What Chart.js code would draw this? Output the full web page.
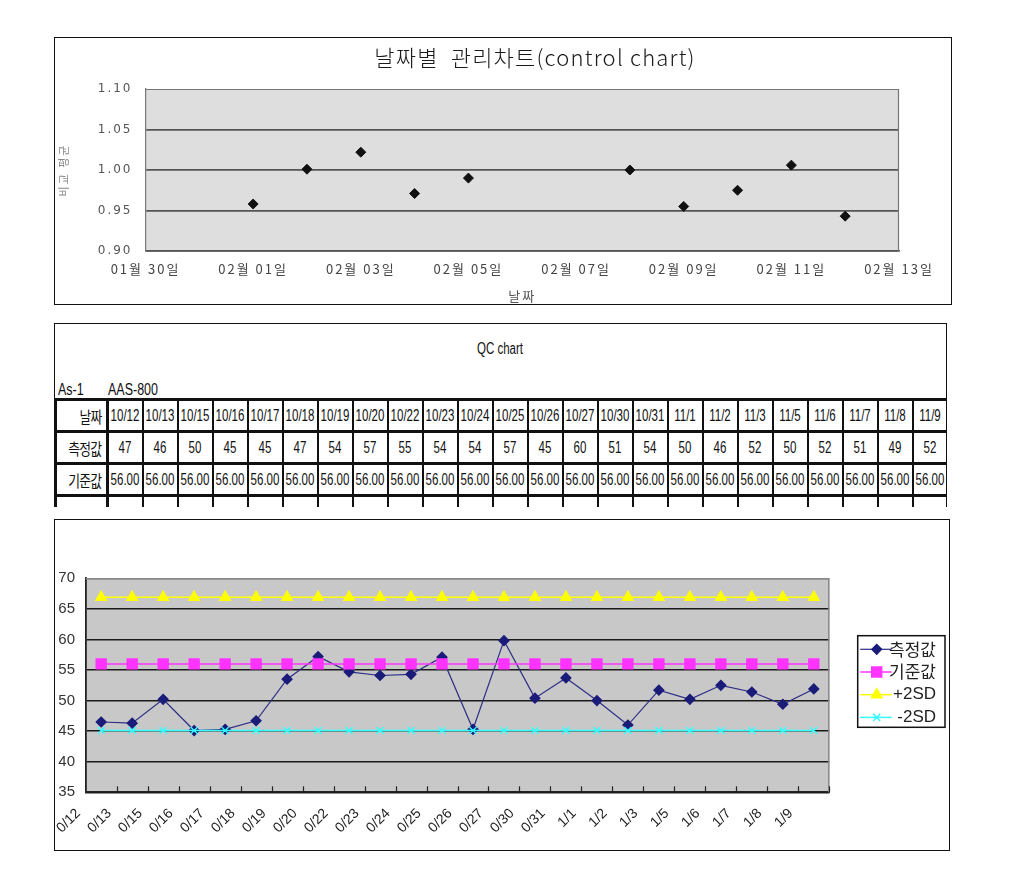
<!DOCTYPE html>
<html><head><meta charset="utf-8">
<script src="https://cdn.jsdelivr.net/npm/chart.js@4.4.0/dist/chart.umd.min.js"></script>
<style>
html,body{margin:0;padding:0;background:#fff;width:1025px;height:889px;overflow:hidden;}
.panel{position:absolute;box-sizing:border-box;border:1px solid #111;background:#fff;}
#p1{left:54px;top:37px;width:898px;height:268px;}
#p2{left:54px;top:323px;width:893px;height:184px;border-bottom:none;overflow:hidden;}
#p3{left:54px;top:519px;width:896px;height:332px;}
canvas{position:absolute;left:0;top:0;}
.narrow{font-family:"Liberation Sans Narrow","Arial Narrow","Liberation Sans",sans-serif;}
.sq{display:inline-block;width:60px;margin:0 -30px;text-align:center;transform:scaleX(0.72);transform-origin:center;}
.sql{display:inline-block;transform:scaleX(0.78);transform-origin:left center;}
#qct{position:absolute;left:345px;top:15px;width:200px;text-align:center;font-size:16px;line-height:20px;color:#111;}
#as1{position:absolute;left:3px;top:56px;font-size:16px;line-height:20px;color:#111;}
#aas{position:absolute;left:53px;top:56px;font-size:16px;line-height:20px;color:#111;}
#tbl{position:absolute;left:-1px;top:74px;border-collapse:collapse;table-layout:fixed;width:894px;}
#tbl td{border-left:2px solid #111;border-right:2px solid #111;border-top:3px solid #111;border-bottom:3px solid #111;height:29px;padding:0;text-align:center;font-size:16px;color:#111;white-space:nowrap;overflow:visible;}
#tbl td.h{text-align:right;padding-right:5px;font-family:"Noto Sans CJK KR",sans-serif;font-size:16px;border-left:3px solid #111;border-right:3px solid #111;}
#tbl td.h span{display:inline-block;transform:scaleX(0.8);transform-origin:right center;letter-spacing:-1px;}
</style></head>
<body>
<div class="panel" id="p1"><canvas id="c1" width="896" height="266"></canvas></div>
<div class="panel" id="p2">
  <div id="qct" class="narrow"><span class="sq" style="width:80px;margin:0">QC chart</span></div>
  <div id="as1" class="narrow"><span class="sql">As-1</span></div>
  <div id="aas" class="narrow"><span class="sql">AAS-800</span></div>
  <table id="tbl" class="narrow"><colgroup id="cg"></colgroup><tbody id="tb"></tbody></table>
</div>
<div class="panel" id="p3"><canvas id="c3" width="894" height="330"></canvas></div>
<script>
// ---------- Panel 1 data (날짜별 관리차트) ----------
const scatterDates = ['02-01','02-02','02-03','02-04','02-05','02-08','02-09','02-10','02-11','02-12'];
const scatterValues = [0.958, 1.001, 1.022, 0.971, 0.990, 1.000, 0.955, 0.975, 1.006, 0.943];
const dateTickLabels = ['01월 30일','02월 01일','02월 03일','02월 05일','02월 07일','02월 09일','02월 11일','02월 13일'];
const scatterStartDate = '01-30';

// ---------- Panel 2/3 data (QC chart) ----------
const qcDates = ['10/12','10/13','10/15','10/16','10/17','10/18','10/19','10/20','10/22','10/23','10/24','10/25','10/26','10/27','10/30','10/31','11/1','11/2','11/3','11/5','11/6','11/7','11/8','11/9'];
const tableMeasured = [47,46,50,45,45,47,54,57,55,54,54,57,45,60,51,54,50,46,52,50,52,51,49,52];
const tableReference = ['56.00','56.00','56.00','56.00','56.00','56.00','56.00','56.00','56.00','56.00','56.00','56.00','56.00','56.00','56.00','56.00','56.00','56.00','56.00','56.00','56.00','56.00','56.00','56.00'];
const measured = [46.5,46.3,50.2,45.1,45.3,46.7,53.5,57.2,54.7,54.1,54.3,57.1,45.3,59.8,50.4,53.7,50.0,46.0,51.7,50.2,52.5,51.4,49.4,51.9];
const referenceValues = [56,56,56,56,56,56,56,56,56,56,56,56,56,56,56,56,56,56,56,56,56,56,56,56];
const plus2SD = [66.9,66.9,66.9,66.9,66.9,66.9,66.9,66.9,66.9,66.9,66.9,66.9,66.9,66.9,66.9,66.9,66.9,66.9,66.9,66.9,66.9,66.9,66.9,66.9];
const minus2SD = [45.1,45.1,45.1,45.1,45.1,45.1,45.1,45.1,45.1,45.1,45.1,45.1,45.1,45.1,45.1,45.1,45.1,45.1,45.1,45.1,45.1,45.1,45.1,45.1];
const seriesNames = ['측정값','기준값','+2SD','-2SD'];
const rowHeaders = ['날짜','측정값','기준값'];
const yTicks3 = [35,40,45,50,55,60,65,70];

// ---------- table ----------
(function(){
  const cg = document.getElementById('cg');
  const c0 = document.createElement('col'); c0.style.width='52px'; cg.appendChild(c0);
  qcDates.forEach(()=>{const c=document.createElement('col'); c.style.width='35px'; cg.appendChild(c);});
  const tb = document.getElementById('tb');
  const rows = [qcDates, tableMeasured, tableReference, qcDates.map(()=> '')];
  rows.forEach((vals, r)=>{
    const tr = document.createElement('tr');
    const th = document.createElement('td'); th.className='h';
    const hs = document.createElement('span'); hs.textContent = rowHeaders[r] || ''; th.appendChild(hs); tr.appendChild(th);
    vals.forEach(v=>{const td=document.createElement('td'); const s=document.createElement('span'); s.className='sq'; s.textContent=v; td.appendChild(s); tr.appendChild(td);});
    tb.appendChild(tr);
  });
})();

// ---------- plugins ----------
const spacing = {
  id:'spacing',
  beforeUpdate(chart, args, o){ if(o.value) chart.ctx.letterSpacing = o.value; },
  beforeDraw(chart, args, o){ if(o.value) chart.ctx.letterSpacing = o.value; }
};
const plotBg = {
  id:'plotBg',
  beforeDraw(chart, args, o){
    const {ctx, chartArea:a} = chart;
    ctx.save(); ctx.fillStyle = o.color; ctx.fillRect(a.left, a.top, a.width, a.height); ctx.restore();
  },
  beforeDatasetsDraw(chart, args, o){
    if(!o.frame) return;
    const {ctx, chartArea:a} = chart;
    ctx.save(); ctx.strokeStyle=o.frame; ctx.lineWidth=o.frameWidth||1;
    ctx.beginPath(); ctx.moveTo(a.left, a.top+0.5); ctx.lineTo(a.right-0.5, a.top+0.5); ctx.lineTo(a.right-0.5, a.bottom); ctx.stroke();
    if(o.innerTicks){
      const xs = chart.scales.x; ctx.strokeStyle=o.innerTicks; ctx.lineWidth=1.2;
      for(let i=1;i<=xs.ticks.length;i++){
        const px = Math.round(xs.getPixelForValue(i-0.5))+0.5;
        ctx.beginPath(); ctx.moveTo(px, a.bottom); ctx.lineTo(px, a.bottom-6); ctx.stroke();
      }
    }
    ctx.restore();
  }
};
const freeText = {
  id:'freeText',
  afterDraw(chart, args, o){
    const ctx = chart.ctx;
    (o.items||[]).forEach(it=>{
      ctx.save(); ctx.font = it.font; ctx.fillStyle = it.color; ctx.textAlign='center'; ctx.textBaseline='middle';
      if(it.spacing) ctx.letterSpacing = it.spacing;
      ctx.fillText(it.text, it.x, it.y); ctx.restore();
    });
  }
};
const lineLegend = {
  id:'lineLegend',
  afterDraw(chart, args, o){
    const {ctx, chartArea:a} = chart;
    const x0 = a.right + o.offsetX, y0 = o.top;
    ctx.save();
    ctx.fillStyle='#fff'; ctx.fillRect(x0, y0, o.width, o.height);
    ctx.strokeStyle='#111'; ctx.lineWidth=1.5; ctx.strokeRect(x0, y0, o.width, o.height);
    chart.data.datasets.forEach((ds, i)=>{
      const cy = y0 + o.firstRow + i*o.rowGap;
      ctx.strokeStyle = ds.borderColor; ctx.lineWidth = ds.borderWidth;
      ctx.beginPath(); ctx.moveTo(x0+2.5, cy); ctx.lineTo(x0+34, cy); ctx.stroke();
      ctx.fillStyle = ds.pointBackgroundColor || ds.backgroundColor; ctx.strokeStyle = ds.pointBorderColor || ds.borderColor;
      Chart.helpers.drawPoint(ctx, {pointStyle: ds.pointStyle, radius: ds.pointRadius, rotation: 0, borderWidth: ds.pointBorderWidth || 1}, x0+19, cy);
      const isKo = /[가-힣]/.test(ds.label);
      ctx.font = isKo ? '17px "Noto Sans CJK KR"' : '17px "Liberation Sans"';
      ctx.fillStyle = '#222'; ctx.textAlign='right'; ctx.textBaseline='middle';
      ctx.fillText(ds.label, x0 + o.width - 9, cy);
    });
    ctx.restore();
  }
};

// ---------- Panel 1 chart ----------
function dayIndex(md){
  const [m,d] = md.split('-').map(Number);
  const [m0,d0] = scatterStartDate.split('-').map(Number);
  return Math.round((Date.UTC(2000,m-1,d) - Date.UTC(2000,m0-1,d0))/86400000);
}
const koFont = '"Noto Sans CJK KR", "DejaVu Sans", sans-serif';
new Chart(document.getElementById('c1'), {
  type:'scatter',
  data:{datasets:[{
    label:'비교 평균',
    data: scatterDates.map((d,i)=>({x: dayIndex(d), y: scatterValues[i]})),
    pointStyle:'rectRot', pointRadius:5, backgroundColor:'#111', borderColor:'#111', borderWidth:1, showLine:false
  }]},
  options:{
    responsive:false, animation:false, events:[],
    layout:{padding:{top:51, right:52, bottom:0, left:0}},
    plugins:{
      legend:{display:false}, tooltip:{enabled:false},
      spacing:{value:'2px'},
      plotBg:{color:'#dedede', frame:'#777', frameWidth:1.2},
      freeText:{items:[{text:'날짜별  관리차트(control chart)', x:480, y:20, font:'300 22px "Noto Sans CJK KR"', color:'#1a1a1a', spacing:'1.2px'}]}
    },
    scales:{
      x:{type:'linear', min:0, max:14,
        afterFit(s){ s.height = 53; },
        ticks:{stepSize:2, autoSkip:false, maxRotation:0, padding:10, color:'#444', font:{family:koFont, size:13},
          callback:(v)=> dateTickLabels[Math.round(v/2)]},
        grid:{display:false, drawTicks:false},
        border:{color:'#555', width:1.5},
        title:{display:true, text:'날짜', color:'#555', font:{family:koFont, size:13}, padding:{top:7, bottom:0}}
      },
      y:{min:0.9, max:1.1,
        afterFit(s){ s.width = 90.5; },
        ticks:{stepSize:0.05, padding:13, color:'#555', font:{family:'"DejaVu Sans", sans-serif', size:12},
          callback:(v)=> Number(v).toFixed(2)},
        grid:{drawTicks:false,
          color:(c)=> Math.abs(c.tick.value-1.1)<1e-6 ? '#888' : '#555',
          lineWidth:(c)=> Math.abs(c.tick.value-1.1)<1e-6 ? 1 : 1.8},
        border:{color:'#777', width:1.2},
        title:{display:true, text:'비교 평균', color:'#888', font:{family:koFont, size:11}, padding:{top:2, bottom:0}}
      }
    }
  },
  plugins:[spacing, plotBg, freeText]
});

// ---------- Panel 3 chart ----------
new Chart(document.getElementById('c3'), {
  type:'line',
  data:{labels: qcDates, datasets:[
    {label:seriesNames[0], data:measured, borderColor:'#2e2e86', backgroundColor:'#1b1b7a', pointBackgroundColor:'#1b1b7a', pointBorderColor:'#1b1b7a', borderWidth:1.2, pointStyle:'rectRot', pointRadius:5, tension:0, order:4},
    {label:seriesNames[1], data:referenceValues, borderColor:'#ff33ff', backgroundColor:'#ff33ff', pointBackgroundColor:'#ff33ff', pointBorderColor:'#ff33ff', borderWidth:1.5, pointStyle:'rect', pointRadius:7, order:3},
    {label:seriesNames[2], data:plus2SD, borderColor:'#ffff00', backgroundColor:'#ffff00', pointBackgroundColor:'#ffff00', pointBorderColor:'#ffff00', borderWidth:1.5, pointStyle:'triangle', pointRadius:6, order:2},
    {label:seriesNames[3], data:minus2SD, borderColor:'#33ffff', backgroundColor:'#33ffff', pointBackgroundColor:'#33ffff', pointBorderColor:'#33ffff', borderWidth:1.5, pointStyle:'crossRot', pointRadius:5, pointBorderWidth:1.3, order:1}
  ]},
  options:{
    responsive:false, animation:false, events:[],
    layout:{padding:{top:58.3, right:119.7, bottom:0, left:0}},
    plugins:{
      legend:{display:false}, tooltip:{enabled:false},
      plotBg:{color:'#c8c8c8', frame:'#888', frameWidth:1.5, innerTicks:'#222'},
      lineLegend:{offsetX:28.4, top:115.7, width:87.3, height:91.6, firstRow:13.6, rowGap:22.7}
    },
    scales:{
      x:{type:'category', offset:true,
        afterFit(s){ s.height = 57.7; },
        ticks:{autoSkip:false, minRotation:45, maxRotation:45, padding:13, labelOffset:-23, color:'#222',
          font:{family:'"Liberation Sans", Arial, sans-serif', size:14},
          callback(v){ return this.getLabelForValue(v).substring(1); }},
        grid:{display:false, drawTicks:false},
        border:{color:'#222', width:1.8}
      },
      y:{min:35, max:70,
        afterFit(s){ s.width = 30.7; },
        ticks:{stepSize:5, padding:10.7, color:'#333', font:{family:'"Liberation Sans",sans-serif', size:15},
          callback:(v)=> yTicks3.includes(v) ? String(v) : ''},
        grid:{drawTicks:false, color:(c)=> c.tick.value===70 ? '#888' : '#1a1a1a', lineWidth:1.5},
        border:{color:'#222', width:1.8}
      }
    }
  },
  plugins:[plotBg, lineLegend]
});
</script>
</body></html>
